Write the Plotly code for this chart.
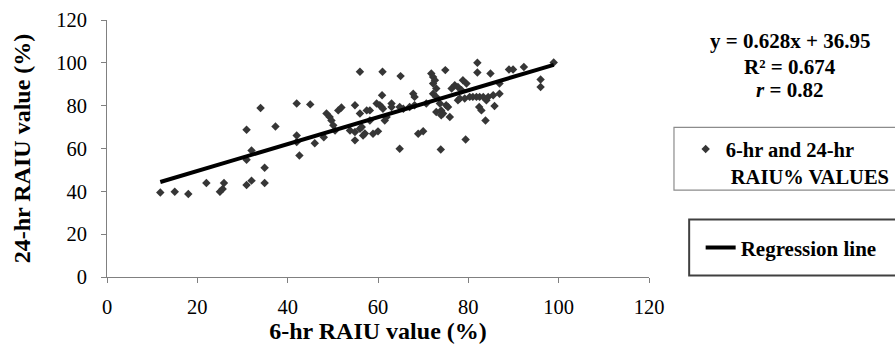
import plotly.graph_objects as go

# 6-hr RAIU (%) and 24-hr RAIU (%) values
raiu_6hr = [11.8, 15.0, 18.0, 22.0, 25.0, 25.6, 25.9, 30.9, 32.0, 34.9, 34.9, 30.9, 32.0, 30.9, 34.0, 37.3,
            42.0, 45.0, 42.0, 42.0, 42.6, 46.0, 48.0,
            48.6, 49.3, 49.7, 50.1, 50.5, 51.2, 51.9, 53.8, 54.9, 54.9, 54.9, 56.0, 56.0, 56.0, 56.4, 56.7,
            57.1, 57.5, 58.2, 58.2, 58.9, 59.7,
            60.0, 60.4, 60.8, 60.9, 61.0, 61.1, 61.5, 61.9, 63.0, 63.0, 64.8, 64.8, 65.0, 65.6, 67.0, 68.1,
            67.8, 68.1, 68.9, 70.0, 70.7,
            71.8, 72.2, 72.6, 72.2, 72.2, 72.9, 72.9, 72.9, 73.7, 74.0, 74.4, 74.0, 73.9, 74.9, 75.1, 75.5,
            75.9, 76.3, 77.0, 77.7, 77.7, 78.1, 78.5, 78.8, 79.2, 79.6, 79.4,
            80.3, 81.0, 81.8, 82.5, 83.3, 84.4, 82.0, 82.0, 82.4, 82.9, 83.8, 84.0, 84.9, 85.5, 86.9, 86.9,
            85.8, 89.0, 89.9, 92.3, 96.0, 96.0, 98.9]
raiu_24hr = [39.5, 39.8, 38.8, 43.9, 39.8, 41.1, 43.9, 43.0, 45.0, 43.9, 51.0, 54.7, 59.1, 68.8, 78.9, 70.3,
             81.0, 80.6, 66.1, 63.0, 56.7, 62.5, 65.3,
             76.3, 74.7, 73.1, 70.8, 68.4, 77.8, 79.1, 68.4, 67.7, 80.2, 63.8, 95.8, 76.3, 69.2, 70.0, 66.1,
             67.0, 77.8, 77.8, 73.1, 66.9, 81.0,
             68.0, 80.2, 79.4, 84.9, 95.8, 78.6, 73.1, 74.7, 81.0, 79.4, 79.4, 59.9, 93.8, 78.6, 79.4, 80.2,
             85.6, 84.1, 66.9, 68.1, 81.0,
             95.0, 93.4, 91.9, 90.3, 85.6, 84.1, 88.0, 77.0, 81.0, 77.8, 76.3, 75.5, 59.5, 96.6, 80.2, 79.4,
             74.7, 88.0, 89.5, 88.7, 82.5, 83.3, 87.2, 91.9, 83.3, 90.3, 64.2,
             84.1, 84.1, 84.1, 84.1, 84.1, 84.1, 100.0, 95.5, 79.4, 77.8, 73.1, 82.5, 95.0, 84.9, 85.6, 90.3,
             79.8, 96.9, 96.9, 98.1, 92.2, 88.7, 100.2]

# Regression reported on the chart
slope = 0.628
intercept = 36.95
equation_lines = ["y = 0.628x + 36.95", "R² = 0.674", "<i>r</i> = 0.82"]

x_ticks = [0, 20, 40, 60, 80, 100, 120]
y_ticks = [0, 20, 40, 60, 80, 100, 120]

x_line = [min(raiu_6hr), max(raiu_6hr)]
y_line = [slope * v + intercept for v in x_line]

W, H = 895, 345
L, R, T, B = 106.8, 649.3, 20.0, 276.7


def px(xp):
    return (xp - L) / (R - L)


def py(yp):
    return (B - yp) / (B - T)


SERIF = "Liberation Serif"

fig = go.Figure()
fig.add_trace(go.Scatter(
    x=raiu_6hr, y=raiu_24hr, mode="markers",
    name="6-hr and 24-hr<br>\u00a0RAIU% VALUES",
    marker=dict(symbol="diamond", size=6.5, color="#363636"),
    legend="legend",
))
fig.add_trace(go.Scatter(
    x=x_line, y=y_line, mode="lines", name="Regression line",
    line=dict(color="black", width=4),
    legend="legend2",
))

font_leg = dict(family=SERIF, size=21, color="black", weight="bold")

fig.update_layout(
    width=W, height=H,
    margin=dict(l=L, r=W - R, t=T, b=H - B, pad=0, autoexpand=False),
    paper_bgcolor="white", plot_bgcolor="white",
    font=dict(family=SERIF, size=20, color="black"),
    showlegend=True,
    legend=dict(x=px(686), y=py(129), xanchor="left", yanchor="top",
                bgcolor="rgba(0,0,0,0)", borderwidth=0,
                font=dict(family=SERIF, size=20.5, color="black", weight="bold"),
                valign="top", itemwidth=30, tracegroupgap=0),
    legend2=dict(x=px(701), y=py(227), xanchor="left", yanchor="top",
                 bgcolor="rgba(0,0,0,0)", borderwidth=0, font=font_leg,
                 itemwidth=30),
    xaxis=dict(range=[0, 120], tickvals=x_ticks, ticks="outside", ticklen=5,
               tickcolor="#808080", showline=True, linecolor="#808080", linewidth=1,
               showgrid=False, zeroline=False, ticklabelstandoff=6,
               tickfont=dict(family=SERIF, size=20.5, color="black"),
               title=dict(text="6-hr RAIU value (%)", standoff=4,
                          font=dict(family=SERIF, size=24, color="black", weight="bold"))),
    yaxis=dict(range=[0, 120], tickvals=y_ticks, ticks="outside", ticklen=5,
               tickcolor="#808080", showline=True, linecolor="#808080", linewidth=1,
               showgrid=False, zeroline=False, ticklabelstandoff=10,
               tickfont=dict(family=SERIF, size=20.5, color="black"),
               title=dict(text="24-hr RAIU value (%)", standoff=18,
                          font=dict(family=SERIF, size=24, color="black", weight="bold"))),
    shapes=[
        dict(type="rect", xref="paper", yref="paper",
             x0=px(674.3), x1=px(905), y0=py(190), y1=py(127.3),
             line=dict(color="#8c8c8c", width=1.2), fillcolor="rgba(0,0,0,0)"),
        dict(type="rect", xref="paper", yref="paper",
             x0=px(689.5), x1=px(905), y0=py(275.3), y1=py(219.3),
             line=dict(color="#404040", width=2), fillcolor="rgba(0,0,0,0)"),
    ],
)

for txt, yc in zip(equation_lines, [41, 66.5, 90]):
    fig.add_annotation(text=txt, xref="paper", yref="paper", x=px(790), y=py(yc),
                       xanchor="center", yanchor="middle", showarrow=False,
                       font=dict(family=SERIF, size=21, color="black", weight="bold"))

fig.write_html(
    "out.html",
    config={"displayModeBar": False},
    post_script="document.body.style.margin='0';document.body.style.overflow='hidden';",
)
